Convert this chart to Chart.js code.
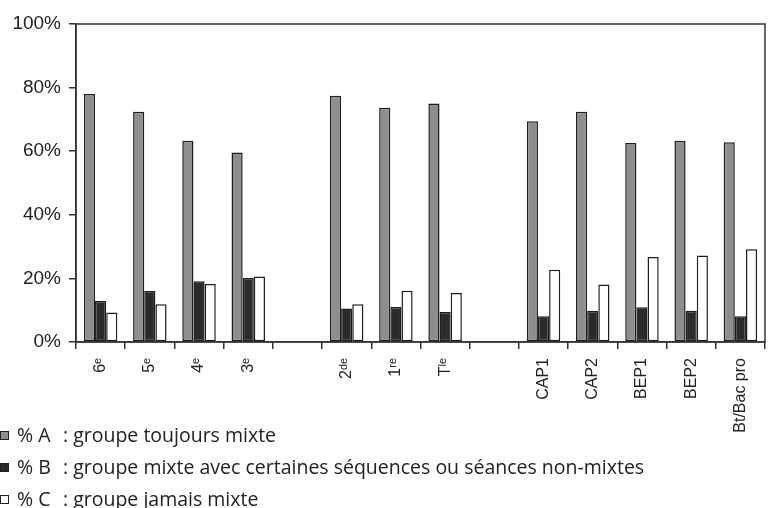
<!DOCTYPE html>
<html>
<head>
<meta charset="utf-8">
<script src="https://cdn.jsdelivr.net/npm/chart.js@4"></script>
<style>
  body { margin: 0; background: #fff; }
  #zone { position: relative; width: 773px; height: 508px; }
  #graf { position: absolute; left: 0; top: 0; }
  .leyenda { position: absolute; left: 0; top: 419px; font-family: "Open Sans", sans-serif; font-size: 19.5px; color: #222; }
  .fila { height: 32px; line-height: 32px; white-space: nowrap; }
  .caja { display: inline-block; width: 7px; height: 7px; border: 1px solid #222; margin-right: 8px; vertical-align: 2px; }
  .clave { display: inline-block; width: 46px; }
</style>
</head>
<body>
<div id="zone">
  <canvas id="graf" width="773" height="440"></canvas>
  <div class="leyenda" id="leyenda"></div>
</div>
<script>
//datos
const niveles = ['6ᵉ', '5ᵉ', '4ᵉ', '3ᵉ', '', '2ᵈᵉ', '1ʳᵉ', 'Tˡᵉ', '', 'CAP1', 'CAP2', 'BEP1', 'BEP2', 'Bt/Bac pro'];
const toujoursMixte = [78, 72.4, 63.3, 59.6, null, 77.4, 73.7, 75, null, 69.4, 72.4, 62.6, 63.3, 62.8];
const nonMixtesParfois = [12.9, 16, 19.1, 20.1, null, 10.5, 11, 9.4, null, 8.1, 9.8, 10.9, 9.8, 8.1];
const jamaisMixte = [9.3, 11.9, 18.2, 20.6, null, 11.9, 16.1, 15.4, null, 22.7, 18.1, 26.7, 27.2, 29.2];
const ticksY = [0, 20, 40, 60, 80, 100];
const claves = ['% A', '% B', '% C'];
const textos = [': groupe toujours mixte', ': groupe mixte avec certaines séquences ou séances non-mixtes', ': groupe jamais mixte'];
const colores = ['#8e8e8e', '#2b2b2b', '#ffffff'];

// borde de arriba y derecha del cuadro
const cuadro = {
    id: 'cuadro',
    afterDatasetsDraw(chart) {
        const { ctx, chartArea: a } = chart;
        ctx.save();
        ctx.strokeStyle = '#333';
        ctx.lineWidth = 1.5;
        ctx.strokeRect(a.left, a.top, a.right - a.left, a.bottom - a.top);
        ctx.restore();
    }
};

const fuente = { family: '"Liberation Sans", Arial, sans-serif' };

new Chart(document.getElementById('graf'), {
    type: 'bar',
    data: {
        labels: niveles,
        datasets: [toujoursMixte, nonMixtesParfois, jamaisMixte].map((serie, i) => ({
            label: claves[i],
            data: serie,
            backgroundColor: colores[i],
            borderColor: '#1e1e1e',
            borderWidth: 1.5,
            borderSkipped: false,
            categoryPercentage: 0.68,
            barPercentage: 1
        }))
    },
    options: {
        responsive: false,
        animation: false,
        layout: { padding: { top: 24, right: 8, left: 0, bottom: 0 } },
        plugins: { legend: { display: false }, tooltip: { enabled: false } },
        scales: {
            x: {
                grid: { offset: true, drawOnChartArea: false, tickLength: 7, color: '#333', lineWidth: 1.5 },
                border: { color: '#333', width: 1.5 },
                ticks: { color: '#222', font: { ...fuente, size: 16 }, minRotation: 90, maxRotation: 90, padding: 9, autoSkip: false },
                afterFit: s => { s.height = 98; }
            },
            y: {
                min: 0,
                max: 100,
                afterBuildTicks: s => { s.ticks = ticksY.map(v => ({ value: v })); },
                grid: { drawOnChartArea: false, tickLength: 7, color: '#333', lineWidth: 1.5 },
                border: { color: '#333', width: 1.5 },
                ticks: { color: '#222', font: { ...fuente, size: 19 }, padding: 8, callback: v => v + '%' },
                afterFit: s => { s.width = 76; }
            }
        }
    },
    plugins: [cuadro]
});

// leyenda
const leyenda = document.getElementById('leyenda');
claves.forEach((clave, i) => {
    const fila = document.createElement('div');
    fila.classList.add('fila');
    fila.innerHTML = `<span class="caja" style="background:${colores[i]}"></span><span class="clave">${clave}</span>${textos[i]}`;
    leyenda.appendChild(fila);
});
</script>
</body>
</html>
